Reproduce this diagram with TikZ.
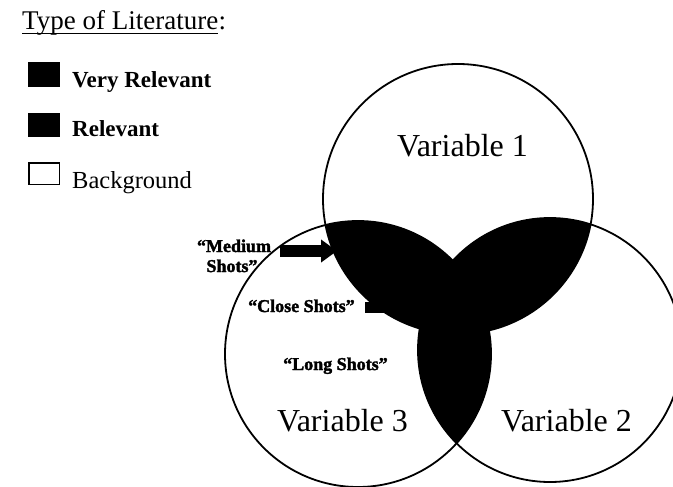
\documentclass[tikz,border=0pt]{standalone}
\usepackage{fontspec}
\setmainfont{Liberation Serif}
\newfontfamily\heavyserif{Liberation Serif Bold}[FakeBold=2]
\usetikzlibrary{arrows.meta}
\begin{document}
\begin{tikzpicture}[x=1pt,y=-1pt,
  lbl/.style={inner sep=0pt, anchor=base west},
  leg/.style={lbl, font=\fontsize{23}{26}\selectfont\bfseries},
  varlbl/.style={lbl, font=\fontsize{32}{36}\selectfont},
  shotlbl/.style={inner sep=0pt, anchor=base, font=\fontsize{18}{20}\selectfont\heavyserif},
  ring/.style={draw=black, line width=1.8pt},
  pointer/.style={line width=12pt, -{Triangle[length=16pt,width=22pt]}},
  plainpointer/.style={line width=11pt}]
\useasboundingbox (0,0) rectangle (673,487);
\fill[white] (0,0) rectangle (673,487);
% overlaps (pairwise intersections)
\begin{scope}
  \clip (458,199) circle [radius=135pt];
  \fill (550,350) circle [radius=132pt];
  \fill (358,354) circle [radius=133pt];
\end{scope}
\begin{scope}
  \clip (550,350) circle [radius=132pt];
  \fill (358,354) circle [radius=133pt];
\end{scope}
% circle outlines
\draw[ring] (458,199) circle [radius=135pt];
\draw[ring] (550,350) circle [radius=132pt];
\draw[ring] (358,354) circle [radius=133pt];
% title
\node[lbl, font=\fontsize{27}{30}\selectfont] (title) at (22,30) {Type of Literature};
\node[lbl, font=\fontsize{27}{30}\selectfont] (colon) at (title.base east) {:};
\draw[line width=1.8pt] ([yshift=-3.5pt]title.base west) -- ([yshift=-3.5pt]title.base east);
% legend
\fill (28,62) rectangle (60,87);
\fill (28,113) rectangle (60,137);
\draw[line width=1.5pt] (28.75,162.75) rectangle (59.25,184.25);
\node[leg] (vrel) at (72,88) {Very Relevant};
\node[leg] (rel) at (72,137) {Relevant};
\node[lbl, font=\fontsize{24.5}{28}\selectfont] (bg) at (72,188) {Background};
% variable labels
\node[varlbl] (v1) at (397,157) {Variable 1};
\node[varlbl] (v3) at (277,431) {Variable 3};
\node[varlbl] (v2) at (501,431) {Variable 2};
% shot labels
\node[shotlbl] (med1) at (234,252) {“Medium};
\node[shotlbl] (med2) at (232,272) {Shots”};
\node[shotlbl, anchor=base west] (close) at (248,312) {“Close Shots”};
\node[shotlbl, anchor=base west] (long) at (283,370) {“Long Shots”};
% pointers
\coordinate (medtail) at (280,251);
\coordinate (medtip) at (337,251);
\coordinate (closetail) at (365,307);
\coordinate (closetip) at (405,307);
\draw[pointer] (medtail) -- (medtip);
\draw[plainpointer] (closetail) -- (closetip);
\end{tikzpicture}
\end{document}
